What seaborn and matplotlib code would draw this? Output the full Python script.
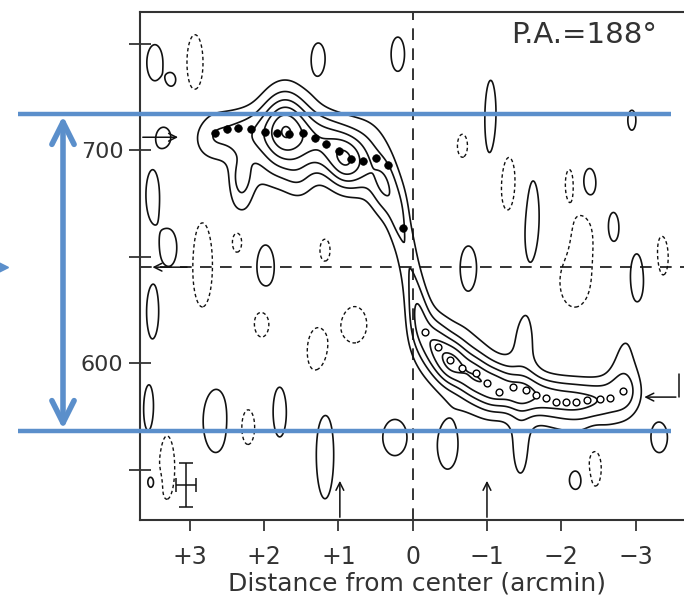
import numpy as np
import pandas as pd
import matplotlib
matplotlib.use("Agg")
import matplotlib.pyplot as plt
import matplotlib.transforms as mtransforms
import seaborn as sns

# ---------------- data ----------------
x_ticks = [3, 2, 1, 0, -1, -2, -3]
x_tick_labels = ["+3", "+2", "+1", "0", "\u22121", "\u22122", "\u22123"]
y_ticks = [550, 600, 650, 700, 750]
y_tick_labels = ["", "600", "", "700", ""]

# rotation-curve points (filled dots, approaching side)
dots_x = [2.66, 2.50, 2.35, 2.17, 1.99, 1.83, 1.66, 1.48, 1.31, 1.16, 0.99, 0.83, 0.67, 0.49, 0.33, 0.13]
dots_v = [707.8, 709.7, 710.2, 709.7, 708.6, 707.8, 707.5, 707.8, 705.5, 702.8, 699.7, 695.6, 695.0, 696.1, 693.0, 663.2]
# rotation-curve points (open circles, receding side)
circ_x = [-0.16, -0.34, -0.50, -0.66, -0.85, -1.00, -1.16, -1.35, -1.53, -1.66, -1.80, -1.93, -2.07, -2.20, -2.34, -2.52, -2.65, -2.83]
circ_v = [614.7, 607.7, 601.4, 597.5, 595.4, 590.5, 586.5, 588.6, 587.3, 585.0, 583.4, 581.8, 581.8, 581.8, 582.6, 582.9, 583.8, 587.0]

# emission components of the PV map (position, velocity, widths, strength)
em_x  = [2.75, 2.45, 2.15, 1.72, 1.70, 1.35, 1.10, 0.90, 0.65, 0.40, 0.25, 0.18, 0.08, 0.00, -0.06,
         0.70, 2.30, 1.52, 1.90,
         -0.12, -0.30, -0.52, -0.80, -1.10, -1.45, -1.80, -2.15, -2.50, -2.85,
         -0.60, -1.50, -1.45, -1.00, -2.20, -2.85]
em_v  = [706, 707, 707, 710, 708, 704, 700, 694, 692, 684, 675, 666, 652, 637, 625,
         706, 688, 686, 690,
         617, 608, 600, 594, 589, 586, 584, 583, 583, 586,
         605, 608, 560, 583, 572, 600]
em_sx = [0.18, 0.22, 0.22, 0.22, 0.35, 0.20, 0.18, 0.16, 0.16, 0.13, 0.12, 0.10, 0.10, 0.10, 0.10,
         0.30, 0.10, 0.15, 0.25,
         0.12, 0.14, 0.15, 0.16, 0.18, 0.20, 0.20, 0.20, 0.20, 0.18,
         0.35, 0.15, 0.12, 0.25, 0.40, 0.15]
em_sv = [9, 9, 9, 13, 10, 10, 10, 9, 10, 10, 10, 10, 10, 10, 10,
         10, 6, 8, 8,
         10, 9, 8, 8, 8, 7, 7, 7, 7, 8,
         14, 16, 16, 10, 8, 15]
em_a  = [1.3, 1.3, 1.3, 4.4, 1.2, 1.8, 2.0, 3.2, 1.8, 2.4, 1.2, 1.3, 1.3, 1.3, 1.3,
         1.0, 0.9, 1.0, 0.8,
         1.8, 2.5, 3.5, 3.0, 3.2, 2.8, 2.4, 2.2, 2.0, 1.6,
         1.0, 1.2, 1.3, 0.7, 0.8, 1.1]

# noise islands (positive -> solid, negative -> dashed)
nz_x  = [3.47, 3.24, 1.27, 0.20, -1.05, -2.95, 3.35, 3.50, 2.31, -1.59, -2.38, -2.70, 3.27, 1.98, -0.75,
         -3.07, 3.50, 3.55, 2.65, 1.79, 1.18, 0.24, -0.47, -3.32, -2.20, 3.51,
         2.93, -0.67, -1.30, -2.11, -2.29, -2.18, -3.32, 2.83, 2.36, 1.18, 2.03, 1.28, 2.23, 3.31, -2.45, 0.78]
nz_v  = [741, 733, 743, 745, 713, 714, 706, 679, 681, 669, 684, 664, 654, 645, 645,
         642, 624, 578, 573, 577, 557, 565, 561, 565, 545, 544,
         741, 702, 684, 684, 661, 638, 649, 646, 657, 653, 619, 605, 570, 551, 551, 618]
nz_sx = [0.12, 0.06, 0.10, 0.10, 0.09, 0.06, 0.10, 0.10, 0.13, 0.13, 0.10, 0.075, 0.12, 0.13, 0.12,
         0.16, 0.09, 0.08, 0.19, 0.10, 0.13, 0.18, 0.15, 0.12, 0.10, 0.07,
         0.12, 0.075, 0.15, 0.06, 0.12, 0.22, 0.15, 0.15, 0.075, 0.075, 0.12, 0.16, 0.12, 0.12, 0.10, 0.18]
nz_sv = [9.4, 3.0, 8.0, 8.9, 22, 5.2, 5.0, 13, 9.9, 24, 8.3, 7.3, 9.5, 11.5, 11,
         15.6, 13.5, 12.5, 16.7, 13, 23, 9.4, 12, 7.8, 5.0, 4.0,
         14.6, 6.0, 15.6, 7.8, 10.4, 13, 15.6, 22, 5.7, 5.7, 7.8, 13, 10.4, 16.7, 10.4, 9.4]
nz_a  = [1.5] * 26 + [-1.5] * 16

# annotations
pa_text = "P.A.=188\u00b0"
x_label = "Distance from center (arcmin)"
systemic_v = 645
band_v = [717, 568]
blue = "#5b8fcb"

# ---------------- figure ----------------
sns.set_theme(style="ticks")
plt.rcParams["font.family"] = ["DejaVu Sans"]

W, H = 684, 613
fig = plt.figure(figsize=(W / 100, H / 100), dpi=100)
fig.patch.set_facecolor("white")
ax = fig.add_axes([140 / W, 1 - 520 / H, (695 - 140) / W, (520 - 12) / H])
ax.set_facecolor("white")

xg = np.linspace(-4.2, 4.2, 700)
vg = np.linspace(510, 780, 700)
X, V = np.meshgrid(xg, vg)
Z = np.zeros_like(X)
for x0, v0, sx, sv, a in zip(em_x + nz_x, em_v + nz_v, em_sx + nz_sx, em_sv + nz_sv, em_a + nz_a):
    Z += a * np.exp(-((X - x0) ** 2) / (2 * sx ** 2) - ((V - v0) ** 2) / (2 * sv ** 2))

ax.contour(X, V, Z, levels=[1, 2, 3, 4, 5, 6], colors="#111111", linewidths=1.2, linestyles="solid")
ax.contour(X, V, Z, levels=[-1], colors="#111111", linewidths=1.0, linestyles=[(0, (2.5, 2.0))])

df_d = pd.DataFrame({"x": dots_x, "v": dots_v})
df_c = pd.DataFrame({"x": circ_x, "v": circ_v})
sns.scatterplot(data=df_d, x="x", y="v", ax=ax, s=30, color="black", edgecolor="black", linewidth=0.5, zorder=5)
sns.scatterplot(data=df_c, x="x", y="v", ax=ax, s=24, facecolor="white", edgecolor="black", linewidth=1.0, zorder=5)

ax.axvline(0, color="#111111", lw=1.2, ls=(0, (7, 5)))
ax.axhline(systemic_v, color="#111111", lw=1.2, ls=(0, (7, 5)))

# error bar symbol
ax.errorbar([3.05], [542.7], xerr=[0.13], yerr=[10.5], color="#111111", capsize=5, lw=1.1, capthick=1.1)

# arrows
apr = dict(arrowstyle="->", color="#111111", lw=1.1, mutation_scale=14)
ax.annotate("", xy=(3.12, 706), xytext=(3.67, 706), arrowprops=apr)
ax.annotate("", xy=(3.54, 645), xytext=(3.0, 645), arrowprops=apr)
ax.annotate("", xy=(-3.08, 584), xytext=(-3.58, 584), arrowprops=apr)
ax.plot([-3.58, -3.58], [584, 595], color="#111111", lw=1.1)
ax.annotate("", xy=(0.98, 546), xytext=(0.98, 526.3), arrowprops=apr)
ax.annotate("", xy=(-1.0, 546), xytext=(-1.0, 526.3), arrowprops=apr)

ax.text(-2.31, 754, pa_text, ha="center", va="center", fontsize=21, color="#333333")

ax.set_xlim(3.67, -3.80)
ax.set_ylim(526.3, 764.8)
ax.set_xticks(x_ticks)
ax.set_xticklabels(x_tick_labels, fontsize=17, color="#333333")
ax.set_yticks(y_ticks)
ax.set_yticklabels(y_tick_labels, fontsize=16, color="#333333")
ax.tick_params(axis="x", direction="out", length=8, width=1.2, color="#222222", pad=10)
ax.tick_params(axis="y", direction="inout", length=16, width=1.2, color="#222222", pad=4,
               right=True, left=True)
ax.set_xlabel(x_label, fontsize=18, color="#333333", labelpad=2)
ax.set_ylabel("")
for s in ax.spines.values():
    s.set_color("#333333")
    s.set_linewidth(1.5)

# blue overlay lines and double arrow
tr = mtransforms.blended_transform_factory(fig.transFigure, ax.transData)
for bv in band_v:
    ax.plot([18 / W, 671 / W], [bv, bv], transform=tr, color=blue, lw=3.2, clip_on=False, zorder=10,
            solid_capstyle="butt")
ax.annotate("", xy=(63 / W, band_v[0] - 1), xytext=(63 / W, band_v[1] + 1),
            xycoords=tr, textcoords=tr,
            arrowprops=dict(arrowstyle="<->", color=blue, lw=4, mutation_scale=40,
                            shrinkA=0, shrinkB=0), annotation_clip=False, zorder=10)
ax.plot([2 / W], [systemic_v], transform=tr, marker=">", color=blue, ms=8, clip_on=False)

fig.savefig("out.png", dpi=100, facecolor="white")
